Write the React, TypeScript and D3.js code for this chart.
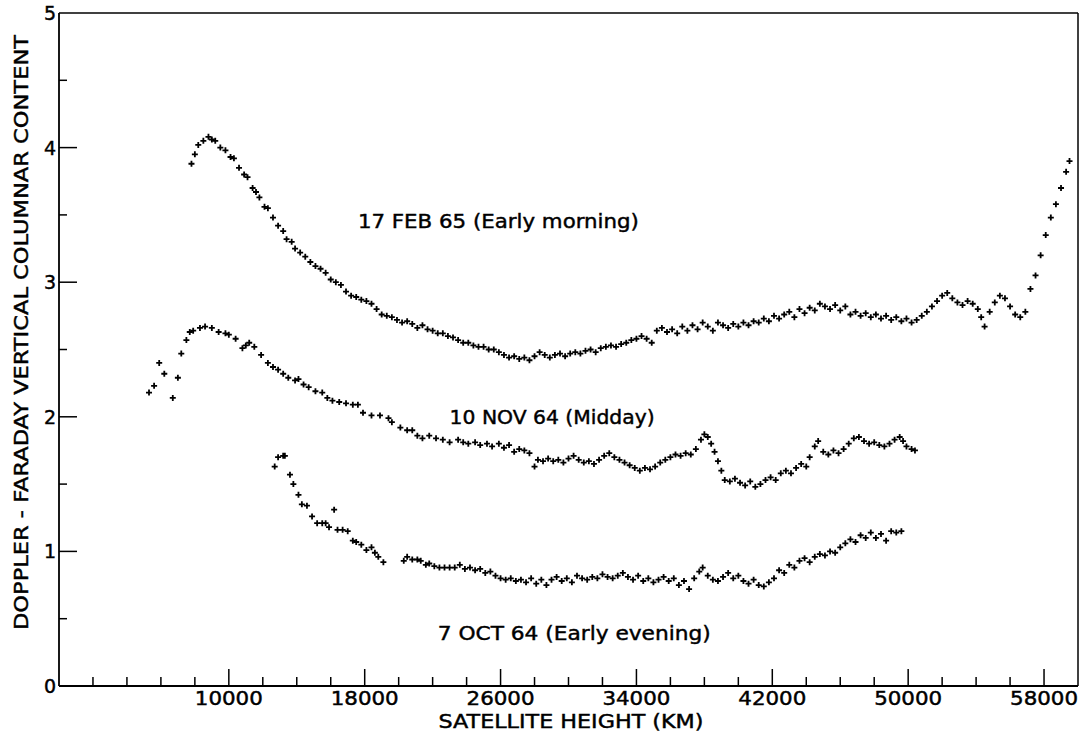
import * as d3 from "d3";

// Doppler - Faraday vertical columnar content vs satellite height (km)
const feb65: [number, number][] = [
  [7800, 3.88], [8000, 3.95], [8200, 4.02], [8500, 4.05], [8800, 4.08], [9000, 4.06], [9200, 4.05],
  [9500, 4.0], [9800, 3.98], [10100, 3.93], [10300, 3.92], [10600, 3.85], [10900, 3.8], [11100, 3.78],
  [11400, 3.7], [11600, 3.67], [11800, 3.63], [12100, 3.56], [12300, 3.55], [12600, 3.48], [12900, 3.42],
  [13200, 3.38], [13400, 3.32], [13700, 3.3], [13900, 3.25], [14200, 3.22], [14500, 3.19], [14800, 3.15],
  [15100, 3.12], [15400, 3.1], [15700, 3.07], [16000, 3.02], [16300, 3.0], [16600, 2.98], [16900, 2.93],
  [17200, 2.9], [17500, 2.89], [17800, 2.87], [18100, 2.86], [18400, 2.84], [18700, 2.8], [19000, 2.76],
  [19300, 2.75], [19600, 2.74], [19900, 2.72], [20200, 2.7], [20500, 2.71], [20800, 2.69], [21100, 2.66],
  [21400, 2.68], [21700, 2.65], [22000, 2.64], [22300, 2.62], [22600, 2.62], [22900, 2.6], [23200, 2.59],
  [23500, 2.57], [23800, 2.55], [24100, 2.55], [24400, 2.53], [24700, 2.52], [25000, 2.52], [25300, 2.5],
  [25600, 2.5], [25900, 2.48], [26200, 2.46], [26500, 2.44], [26800, 2.45], [27100, 2.43], [27400, 2.44],
  [27700, 2.42], [28000, 2.45], [28300, 2.48], [28600, 2.46], [28900, 2.44], [29200, 2.46], [29500, 2.47],
  [29800, 2.45], [30100, 2.47], [30400, 2.48], [30700, 2.47], [31000, 2.49], [31300, 2.5], [31600, 2.48],
  [31900, 2.51], [32200, 2.52], [32500, 2.53], [32800, 2.52], [33100, 2.54], [33400, 2.55], [33700, 2.57],
  [34000, 2.58], [34300, 2.6], [34600, 2.58], [34900, 2.55], [35200, 2.64], [35500, 2.66], [35800, 2.63],
  [36100, 2.65], [36400, 2.62], [36700, 2.67], [37000, 2.64], [37300, 2.68], [37600, 2.65], [37900, 2.7],
  [38200, 2.67], [38500, 2.64], [38800, 2.7], [39100, 2.68], [39400, 2.66], [39700, 2.69], [40000, 2.67],
  [40300, 2.7], [40600, 2.68], [40900, 2.71], [41200, 2.7], [41500, 2.73], [41800, 2.71], [42100, 2.75],
  [42400, 2.73], [42700, 2.76], [43000, 2.78], [43300, 2.74], [43600, 2.8], [43900, 2.77], [44200, 2.81],
  [44500, 2.79], [44800, 2.84], [45100, 2.82], [45400, 2.8], [45700, 2.83], [46000, 2.79], [46300, 2.82],
  [46600, 2.76], [46900, 2.78], [47200, 2.75], [47500, 2.77], [47800, 2.74], [48100, 2.76], [48400, 2.73],
  [48700, 2.75], [49000, 2.72], [49300, 2.74], [49600, 2.71], [49900, 2.73], [50200, 2.7], [50500, 2.72],
  [50800, 2.75], [51100, 2.78], [51400, 2.82], [51700, 2.86], [52000, 2.9], [52300, 2.92], [52600, 2.88],
  [52900, 2.85], [53200, 2.83], [53500, 2.86], [53800, 2.84], [54100, 2.8], [54300, 2.74], [54500, 2.67],
  [54800, 2.78], [55100, 2.85], [55400, 2.9], [55700, 2.88], [56000, 2.82], [56300, 2.76], [56600, 2.74],
  [56900, 2.78], [57200, 2.95], [57500, 3.05], [57800, 3.2], [58100, 3.35], [58400, 3.48], [58700, 3.58],
  [59000, 3.7], [59300, 3.82], [59500, 3.9],
];

const nov64: [number, number][] = [
  [5300, 2.18], [5600, 2.23], [5900, 2.4], [6200, 2.32], [6700, 2.14], [7000, 2.29], [7200, 2.47],
  [7500, 2.57], [7700, 2.63], [7900, 2.64], [8300, 2.66], [8600, 2.67], [9000, 2.66], [9400, 2.63],
  [9800, 2.62], [10000, 2.61], [10400, 2.58], [10800, 2.51], [11000, 2.53], [11200, 2.55], [11500, 2.52],
  [11900, 2.46], [12300, 2.4], [12600, 2.37], [12900, 2.35], [13200, 2.32], [13500, 2.29], [13900, 2.27],
  [14100, 2.28], [14400, 2.24], [14700, 2.22], [15100, 2.19], [15500, 2.18], [15800, 2.14], [16100, 2.12],
  [16500, 2.11], [16900, 2.1], [17300, 2.09], [17600, 2.09], [17900, 2.03], [18400, 2.01], [18900, 2.01],
  [19400, 1.99], [19600, 1.96], [20100, 1.92], [20500, 1.9], [20800, 1.9], [21100, 1.86], [21400, 1.84],
  [21800, 1.86], [22200, 1.84], [22600, 1.83], [23000, 1.81], [23500, 1.83], [23800, 1.81], [24100, 1.8],
  [24500, 1.81], [24800, 1.79], [25200, 1.8], [25500, 1.78], [25900, 1.8], [26200, 1.77], [26500, 1.79],
  [26800, 1.74], [27100, 1.76], [27400, 1.75], [27700, 1.73], [28000, 1.63], [28200, 1.68], [28500, 1.67],
  [28800, 1.69], [29100, 1.67], [29400, 1.68], [29700, 1.66], [30000, 1.69], [30300, 1.71], [30600, 1.68],
  [30900, 1.66], [31200, 1.67], [31500, 1.65], [31800, 1.68], [32100, 1.71], [32400, 1.73], [32700, 1.7],
  [33000, 1.68], [33300, 1.66], [33600, 1.64], [33900, 1.62], [34200, 1.6], [34500, 1.62], [34800, 1.61],
  [35100, 1.63], [35400, 1.66], [35700, 1.68], [36000, 1.7], [36300, 1.72], [36600, 1.71], [36900, 1.73],
  [37200, 1.72], [37500, 1.76], [37800, 1.83], [38000, 1.87], [38200, 1.85], [38400, 1.8], [38600, 1.74],
  [38800, 1.67], [39000, 1.6], [39200, 1.53], [39500, 1.52], [39800, 1.54], [40100, 1.51], [40400, 1.49],
  [40700, 1.52], [41000, 1.48], [41300, 1.5], [41600, 1.53], [41900, 1.55], [42200, 1.53], [42500, 1.58],
  [42800, 1.6], [43100, 1.58], [43400, 1.62], [43700, 1.65], [44000, 1.63], [44200, 1.7], [44500, 1.78],
  [44700, 1.82], [45000, 1.74], [45300, 1.72], [45600, 1.75], [45900, 1.73], [46200, 1.76], [46500, 1.8],
  [46800, 1.84], [47100, 1.85], [47400, 1.82], [47700, 1.8], [48000, 1.81], [48300, 1.79], [48600, 1.78],
  [48900, 1.8], [49200, 1.83], [49500, 1.85], [49700, 1.82], [49900, 1.78], [50200, 1.76], [50400, 1.75],
];

const oct64: [number, number][] = [
  [12700, 1.63], [12900, 1.7], [13200, 1.71], [13300, 1.71], [13600, 1.57], [13800, 1.5], [14100, 1.42],
  [14300, 1.35], [14600, 1.34], [14900, 1.26], [15200, 1.21], [15500, 1.21], [15700, 1.21], [15900, 1.18],
  [16200, 1.31], [16400, 1.16], [16700, 1.16], [17000, 1.15], [17300, 1.08], [17500, 1.07], [17800, 1.05],
  [18100, 1.01], [18400, 1.03], [18600, 0.99], [18800, 0.96], [19100, 0.92],
  [20300, 0.93], [20500, 0.96], [20800, 0.94], [21100, 0.94], [21300, 0.93], [21600, 0.9], [21800, 0.91],
  [22100, 0.89], [22400, 0.88], [22700, 0.88], [23000, 0.88], [23300, 0.88], [23600, 0.9], [23900, 0.87],
  [24200, 0.88], [24500, 0.86], [24800, 0.87], [25100, 0.84], [25400, 0.85], [25700, 0.82], [26000, 0.8],
  [26300, 0.79], [26600, 0.8], [26900, 0.78], [27200, 0.79], [27500, 0.77], [27800, 0.8], [28100, 0.76],
  [28400, 0.79], [28700, 0.75], [29000, 0.79], [29300, 0.81], [29600, 0.78], [29900, 0.8], [30200, 0.77],
  [30500, 0.82], [30800, 0.8], [31100, 0.79], [31400, 0.81], [31700, 0.8], [32000, 0.83], [32300, 0.81],
  [32600, 0.8], [32900, 0.82], [33200, 0.84], [33500, 0.81], [33800, 0.79], [34100, 0.82], [34400, 0.78],
  [34700, 0.8], [35000, 0.77], [35300, 0.79], [35600, 0.81], [35900, 0.78], [36200, 0.8], [36500, 0.75],
  [36800, 0.78], [37100, 0.72], [37400, 0.8], [37700, 0.85], [37900, 0.88], [38200, 0.82], [38500, 0.79],
  [38800, 0.78], [39100, 0.81], [39400, 0.84], [39700, 0.8], [40000, 0.82], [40300, 0.78], [40600, 0.76],
  [40900, 0.79], [41200, 0.75], [41500, 0.74], [41800, 0.77], [42100, 0.8], [42400, 0.86], [42700, 0.84],
  [43000, 0.9], [43300, 0.88], [43600, 0.93], [43900, 0.95], [44200, 0.92], [44500, 0.96], [44800, 0.98],
  [45100, 0.97], [45400, 1.0], [45700, 0.99], [46000, 1.03], [46300, 1.06], [46600, 1.09], [46900, 1.07],
  [47200, 1.12], [47500, 1.1], [47800, 1.14], [48100, 1.1], [48400, 1.13], [48700, 1.08], [49000, 1.15],
  [49300, 1.14], [49600, 1.15],
];

const xMajorTicks = [10000, 18000, 26000, 34000, 42000, 50000, 58000];
const xTickLabels = ["10000", "18000", "26000", "34000", "42000", "50000", "58000"];
const yMajorTicks = [0, 1, 2, 3, 4, 5];
const yTickLabels = ["0", "1", "2", "3", "4", "5"];

// [text, x (km) at start, y value of baseline, drawn width px]
const notes: [string, number, number, number][] = [
  ["17 FEB 65  (Early morning)", 17600, 3.4, 281],
  ["10 NOV 64  (Midday)", 23000, 1.95, 205],
  ["7 OCT 64  (Early evening)", 22300, 0.34, 273],
];

const FONT = "'DejaVu Sans', 'Liberation Sans', sans-serif";

export default function App() {
  const width = 1087;
  const height = 734;

  const x = d3.scaleLinear().domain([0, 60000]).range([59, 1078]);
  const y = d3.scaleLinear().domain([0, 5]).range([686, 13]);

  const xMinor = d3.range(2000, 60000, 2000).filter((v) => !xMajorTicks.includes(v));
  const yMinor = d3.range(0.5, 5, 1);

  const plus = "M-3,0H3M0,-3V3";
  const series = [feb65, nov64, oct64];

  const x0 = x(0);
  const x1 = x(60000);
  const y0 = y(0);
  const y1 = y(5);

  return (
    <svg
      width={width}
      height={height}
      style={{ position: "absolute", left: 0, top: 0, background: "#fff" }}
      fontFamily={FONT}
    >
      {/* frame */}
      <g stroke="#000" fill="none">
        <line x1={x0} y1={y0} x2={x1} y2={y0} strokeWidth={1.8} />
        <line x1={x0} y1={y0} x2={x0} y2={y1} strokeWidth={1.8} />
        <line x1={x0} y1={y1} x2={x1} y2={y1} strokeWidth={1.3} />
        <line x1={x1} y1={y1} x2={x1} y2={y0} strokeWidth={1.5} />
      </g>

      {/* ticks */}
      <g stroke="#000" strokeWidth={1.5}>
        {xMajorTicks.map((v) => (
          <line key={"xM" + v} x1={x(v)} x2={x(v)} y1={y0} y2={y0 - 17} />
        ))}
        {xMinor.map((v) => (
          <line key={"xm" + v} x1={x(v)} x2={x(v)} y1={y0} y2={y0 - 9} />
        ))}
        {yMajorTicks.slice(0, 5).map((v) => (
          <line key={"yM" + v} x1={x0} x2={x0 + 18} y1={y(v)} y2={y(v)} />
        ))}
        {yMinor.map((v) => (
          <line key={"ym" + v} x1={x0} x2={x0 + 8} y1={y(v)} y2={y(v)} />
        ))}
      </g>

      {/* all text slightly heavier, like the original lettering */}
      <g fill="#000" stroke="#000" strokeWidth={0.45}>
        {xMajorTicks.map((v, i) => (
          <text key={"xl" + v} x={x(v)} y={y0 + 19} fontSize={19} textAnchor="middle" textLength={68} lengthAdjust="spacingAndGlyphs">
            {xTickLabels[i]}
          </text>
        ))}
        {yMajorTicks.map((v, i) => (
          <text key={"yl" + v} x={x0 - 3} y={y(v) + 7} fontSize={19} textAnchor="end">
            {yTickLabels[i]}
          </text>
        ))}

        <text x={571} y={728} textAnchor="middle" fontSize={19} textLength={265} lengthAdjust="spacingAndGlyphs">
          SATELLITE  HEIGHT  (KM)
        </text>
        <text
          transform={`translate(28,${(35 + 630) / 2}) rotate(-90)`}
          textAnchor="middle"
          fontSize={19}
          textLength={595}
          lengthAdjust="spacingAndGlyphs"
        >
          DOPPLER - FARADAY  VERTICAL  COLUMNAR  CONTENT
        </text>

        {notes.map(([t, kx, vy, w]) => (
          <text key={t} x={x(kx)} y={y(vy)} fontSize={20} textLength={w} lengthAdjust="spacingAndGlyphs">
            {t}
          </text>
        ))}
      </g>

      {/* data points */}
      <g stroke="#000" strokeWidth={1.8} fill="none">
        {series.map((s, si) =>
          s.map(([km, v], i) => (
            <path key={si + "-" + i} d={plus} transform={`translate(${x(km)},${y(v)})`} />
          ))
        )}
      </g>
    </svg>
  );
}
